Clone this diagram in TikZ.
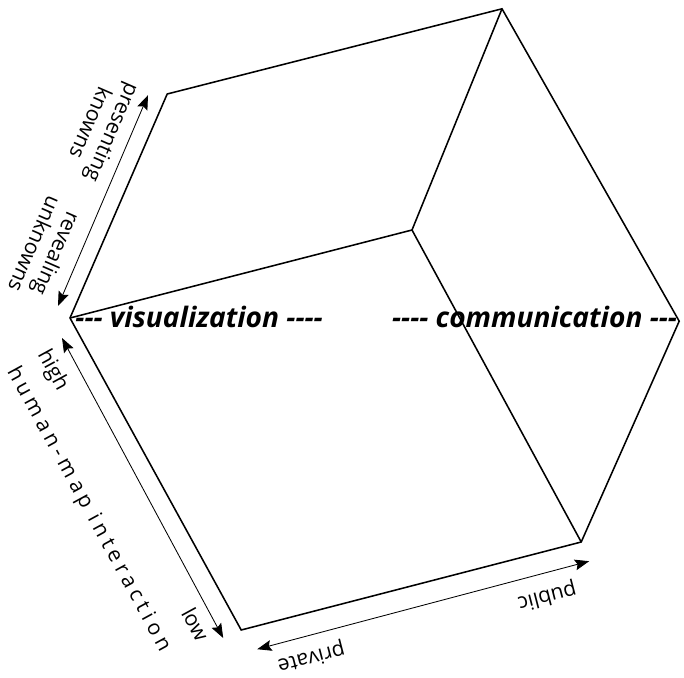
\documentclass[tikz,border=0pt]{standalone}
\usepackage{fontspec}
\setmainfont{Open Sans}
\usepackage{tikz}
\usetikzlibrary{arrows.meta}

\begin{document}
\begin{tikzpicture}[
  font=\fontsize{15}{17}\selectfont,
  edge/.style={line width=1.1pt, line join=miter},
  axis/.style={<->, line width=0.6pt},
  lbl/.style={align=center, inner sep=0pt},
  mode/.style={inner sep=0pt, font=\fontsize{20}{23}\selectfont\bfseries\itshape},
  >={Stealth[length=3.6mm, width=2.7mm, inset=0.6mm]}
]
\useasboundingbox (0,0) rectangle (17.1,-16.925);

% cube corners
\coordinate (lft) at (1.75,-7.95);
\coordinate (tlf) at (4.18,-2.35);
\coordinate (top) at (12.55,-0.22);
\coordinate (rgt) at (16.98,-8.03);
\coordinate (brt) at (14.53,-13.55);
\coordinate (blf) at (6.03,-15.75);
\coordinate (ctr) at (10.30,-5.75);

\draw[edge] (lft) -- (tlf) -- (top) -- (rgt) -- (brt) -- (blf) -- cycle;
\draw[edge] (lft) -- (ctr) -- (top);
\draw[edge] (ctr) -- (brt);

% axis ends
\coordinate (unk) at (1.45,-7.65);
\coordinate (kno) at (3.70,-2.38);
\coordinate (hig) at (1.55,-8.45);
\coordinate (low) at (5.58,-15.95);
\coordinate (prv) at (6.43,-16.23);
\coordinate (pub) at (14.73,-14.03);

\draw[axis] (unk) -- (kno);
\draw[axis] (hig) -- (low);
\draw[axis] (prv) -- (pub);

\node[lbl, rotate=246.5] (presenting) at (2.55,-3.20) {presenting\\knowns};
\node[lbl, rotate=246.5] (revealing) at (1.15,-6.23) {revealing\\unknowns};
\node[lbl, rotate=-61.4] (highlbl) at (1.31,-9.26) {high};
\node[lbl, rotate=-61.4] (lowlbl) at (4.89,-15.61) {low};
\node[lbl, rotate=-61.4] (interaction) at (2.21,-12.73)
  {\addfontfeature{LetterSpace=22}human-map interaction};
\node[lbl, rotate=194.5] (publbl) at (13.68,-14.90) {public};
\node[lbl, rotate=194.5] (prvlbl) at (7.78,-16.43) {private};

\node[mode, anchor=base west] (vis) at (1.88,-8.18)
  {{-}{-}{-} visualization {-}{-}{-}{-}};
\node[mode, anchor=base east] (com) at (16.93,-8.18)
  {{-}{-}{-}{-} communication {-}{-}{-}};
\end{tikzpicture}
\end{document}
